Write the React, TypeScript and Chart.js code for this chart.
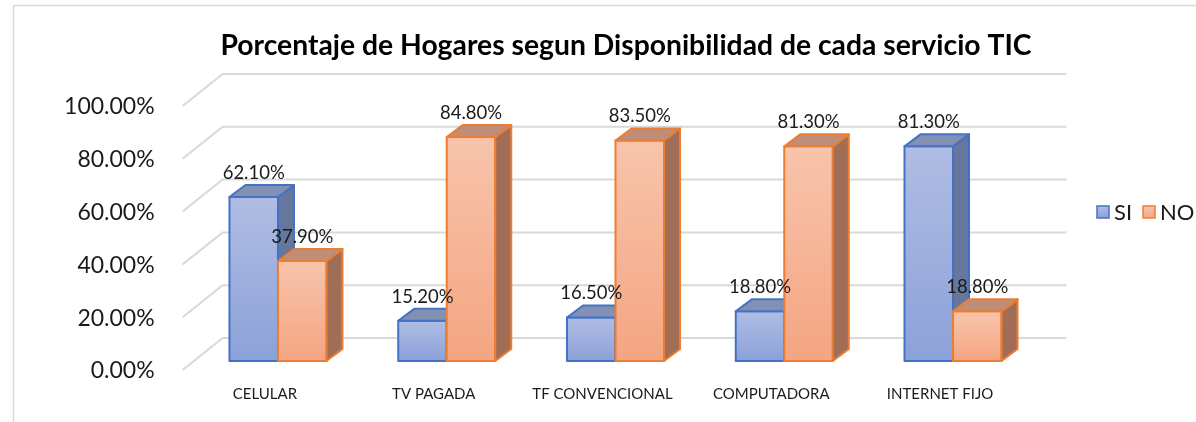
import React, { useEffect, useRef } from 'react';
import { Chart, registerables } from 'chart.js';

Chart.register(...registerables);

// ---- data ----
const categories = ['CELULAR', 'TV PAGADA', 'TF CONVENCIONAL', 'COMPUTADORA', 'INTERNET FIJO'];
const seriesNames = ['SI', 'NO'];
const siValues = [0.621, 0.152, 0.165, 0.188, 0.813];
const noValues = [0.379, 0.848, 0.835, 0.813, 0.188];
const yTickValues = [0, 0.2, 0.4, 0.6, 0.8, 1.0];
const titleText = 'Porcentaje de Hogares segun Disponibilidad de cada servicio TIC';

// ---- styles ----
const FONT = 'Lato';
const PAL = [
  { border: '#4472c4', top: '#b0bde4', bottom: '#8ca1d8', side: '#67769c', cap: '#8290b4' },
  { border: '#ed7d31', top: '#f8c4ab', bottom: '#f4a582', side: '#a06e56', cap: '#be8e78' },
];
const BAR_DX = 16;
const BAR_DY = -12;
const WALL_DX = 29;
const WALL_DY = -23;
const FRONT_DX = -11;
const FRONT_DY = 9;
const GRID_COLOR = '#d9d9d9';

const fmtPct = (v: number) => (v * 100).toFixed(2) + '%';

function frontGradient(ctx: CanvasRenderingContext2D, top: number, bottom: number, p: any) {
  const g = ctx.createLinearGradient(0, top, 0, bottom);
  g.addColorStop(0, p.top);
  g.addColorStop(1, p.bottom);
  return g;
}

const threeDPlugin = {
  id: 'threeD',
  beforeDraw(chart: any) {
    const ctx = chart.ctx as CanvasRenderingContext2D;
    ctx.save();
    ctx.fillStyle = '#ffffff';
    ctx.fillRect(0, 0, chart.width, chart.height);
    ctx.strokeStyle = GRID_COLOR;
    ctx.lineWidth = 1.5;
    ctx.beginPath();
    ctx.moveTo(13.5, chart.height);
    ctx.lineTo(13.5, 5.5);
    ctx.lineTo(chart.width, 5.5);
    ctx.stroke();
    ctx.restore();
  },
  beforeDatasetsDraw(chart: any) {
    const ctx = chart.ctx as CanvasRenderingContext2D;
    const ys = chart.scales.y;
    const area = chart.chartArea;
    ctx.save();
    ctx.strokeStyle = GRID_COLOR;
    ctx.lineWidth = 2;
    for (const v of yTickValues) {
      const py = ys.getPixelForValue(v);
      ctx.beginPath();
      ctx.moveTo(area.left + FRONT_DX, py + FRONT_DY);
      ctx.lineTo(area.left + WALL_DX, py + WALL_DY);
      ctx.lineTo(area.right + WALL_DX, py + WALL_DY);
      ctx.stroke();
    }
    ctx.restore();
  },
  afterDatasetsDraw(chart: any) {
    const ctx = chart.ctx as CanvasRenderingContext2D;
    const n = categories.length;
    ctx.save();
    ctx.lineJoin = 'round';
    for (let i = 0; i < n; i++) {
      for (let d = 0; d < chart.data.datasets.length; d++) {
        const el = chart.getDatasetMeta(d).data[i];
        if (!el) continue;
        const { x, y, base, width } = el.getProps(['x', 'y', 'base', 'width'], true);
        const l = x - width / 2;
        const r = x + width / 2;
        const p = PAL[d];
        ctx.lineWidth = 2;
        ctx.strokeStyle = p.border;
        // front
        ctx.fillStyle = frontGradient(ctx, y, base, p);
        ctx.beginPath();
        ctx.rect(l, y, r - l, base - y);
        ctx.fill();
        ctx.stroke();
        // side
        ctx.fillStyle = p.side;
        ctx.beginPath();
        ctx.moveTo(r, y);
        ctx.lineTo(r + BAR_DX, y + BAR_DY);
        ctx.lineTo(r + BAR_DX, base + BAR_DY);
        ctx.lineTo(r, base);
        ctx.closePath();
        ctx.fill();
        ctx.stroke();
        // top
        ctx.fillStyle = p.cap;
        ctx.beginPath();
        ctx.moveTo(l, y);
        ctx.lineTo(l + BAR_DX, y + BAR_DY);
        ctx.lineTo(r + BAR_DX, y + BAR_DY);
        ctx.lineTo(r, y);
        ctx.closePath();
        ctx.fill();
        ctx.stroke();
      }
    }
    // data labels
    ctx.font = `18.5px ${FONT}`;
    ctx.fillStyle = '#1a1a1a';
    ctx.textAlign = 'center';
    ctx.textBaseline = 'middle';
    chart.data.datasets.forEach((ds: any, d: number) => {
      chart.getDatasetMeta(d).data.forEach((el: any, i: number) => {
        const { x, y } = el.getProps(['x', 'y'], true);
        ctx.fillText(fmtPct(ds.data[i]), x, y - 24);
      });
    });
    ctx.restore();
  },
  afterDraw(chart: any) {
    const ctx = chart.ctx as CanvasRenderingContext2D;
    ctx.save();
    const pos = [1097, 1143];
    const cy = 212;
    ctx.font = `22px ${FONT}`;
    ctx.textBaseline = 'middle';
    ctx.textAlign = 'left';
    seriesNames.forEach((name, d) => {
      const p = PAL[d];
      const bx = pos[d];
      ctx.fillStyle = frontGradient(ctx, cy - 6, cy + 6, p);
      ctx.strokeStyle = p.border;
      ctx.lineWidth = 1.5;
      ctx.beginPath();
      ctx.rect(bx, cy - 6, 12, 12);
      ctx.fill();
      ctx.stroke();
      ctx.fillStyle = '#1a1a1a';
      ctx.fillText(name, bx + 17, cy + 1);
    });
    ctx.restore();
  },
};

export default function App() {
  const ref = useRef<HTMLCanvasElement | null>(null);
  useEffect(() => {
    if (!ref.current) return;
    const chart = new Chart(ref.current, {
      type: 'bar',
      data: {
        labels: categories,
        datasets: [
          { label: seriesNames[0], data: siValues, backgroundColor: 'rgba(0,0,0,0)', borderWidth: 0, categoryPercentage: 0.575, barPercentage: 1.0 },
          { label: seriesNames[1], data: noValues, backgroundColor: 'rgba(0,0,0,0)', borderWidth: 0, categoryPercentage: 0.575, barPercentage: 1.0 },
        ],
      },
      options: {
        responsive: false,
        animation: false,
        devicePixelRatio: 1,
        layout: { padding: { left: 56, right: 0, top: 0, bottom: 0 } },
        plugins: {
          legend: { display: false },
          tooltip: { enabled: false },
          title: {
            display: true,
            text: titleText,
            color: '#000',
            font: { family: FONT, size: 28.3, weight: 'bold' },
            padding: { top: 29, bottom: 34 },
          },
        },
        scales: {
          x: {
            grid: { display: false, drawTicks: false },
            border: { display: false },
            ticks: {
              font: { family: FONT, size: 15 },
              color: '#1a1a1a',
              padding: 24,
              labelOffset: -13,
              autoSkip: false,
              maxRotation: 0,
            },
            afterFit: (s: any) => { s.height = 61; },
          },
          y: {
            min: 0,
            max: 1,
            grid: { display: false, drawTicks: false },
            border: { display: false },
            ticks: {
              stepSize: 0.2,
              font: { family: FONT, size: 23 },
              color: '#1a1a1a',
              padding: 39,
              labelOffset: 10,
              callback: (v: any) => fmtPct(Number(v)),
            },
            afterFit: (s: any) => { s.width = 137.6; },
          },
          yR: {
            type: 'linear',
            position: 'right',
            display: true,
            grid: { display: false, drawTicks: false },
            border: { display: false },
            ticks: { display: false },
            afterFit: (s: any) => { s.width = 158.6; },
          },
        },
      },
      plugins: [threeDPlugin],
    } as any);
    return () => chart.destroy();
  }, []);
  return (
    <div style={{ position: 'fixed', left: 0, top: 0, width: 1196, height: 422, overflow: 'hidden', background: '#fff' }}>
      <canvas ref={ref} width={1196} height={422} style={{ display: 'block', width: 1196, height: 422 }} />
    </div>
  );
}
